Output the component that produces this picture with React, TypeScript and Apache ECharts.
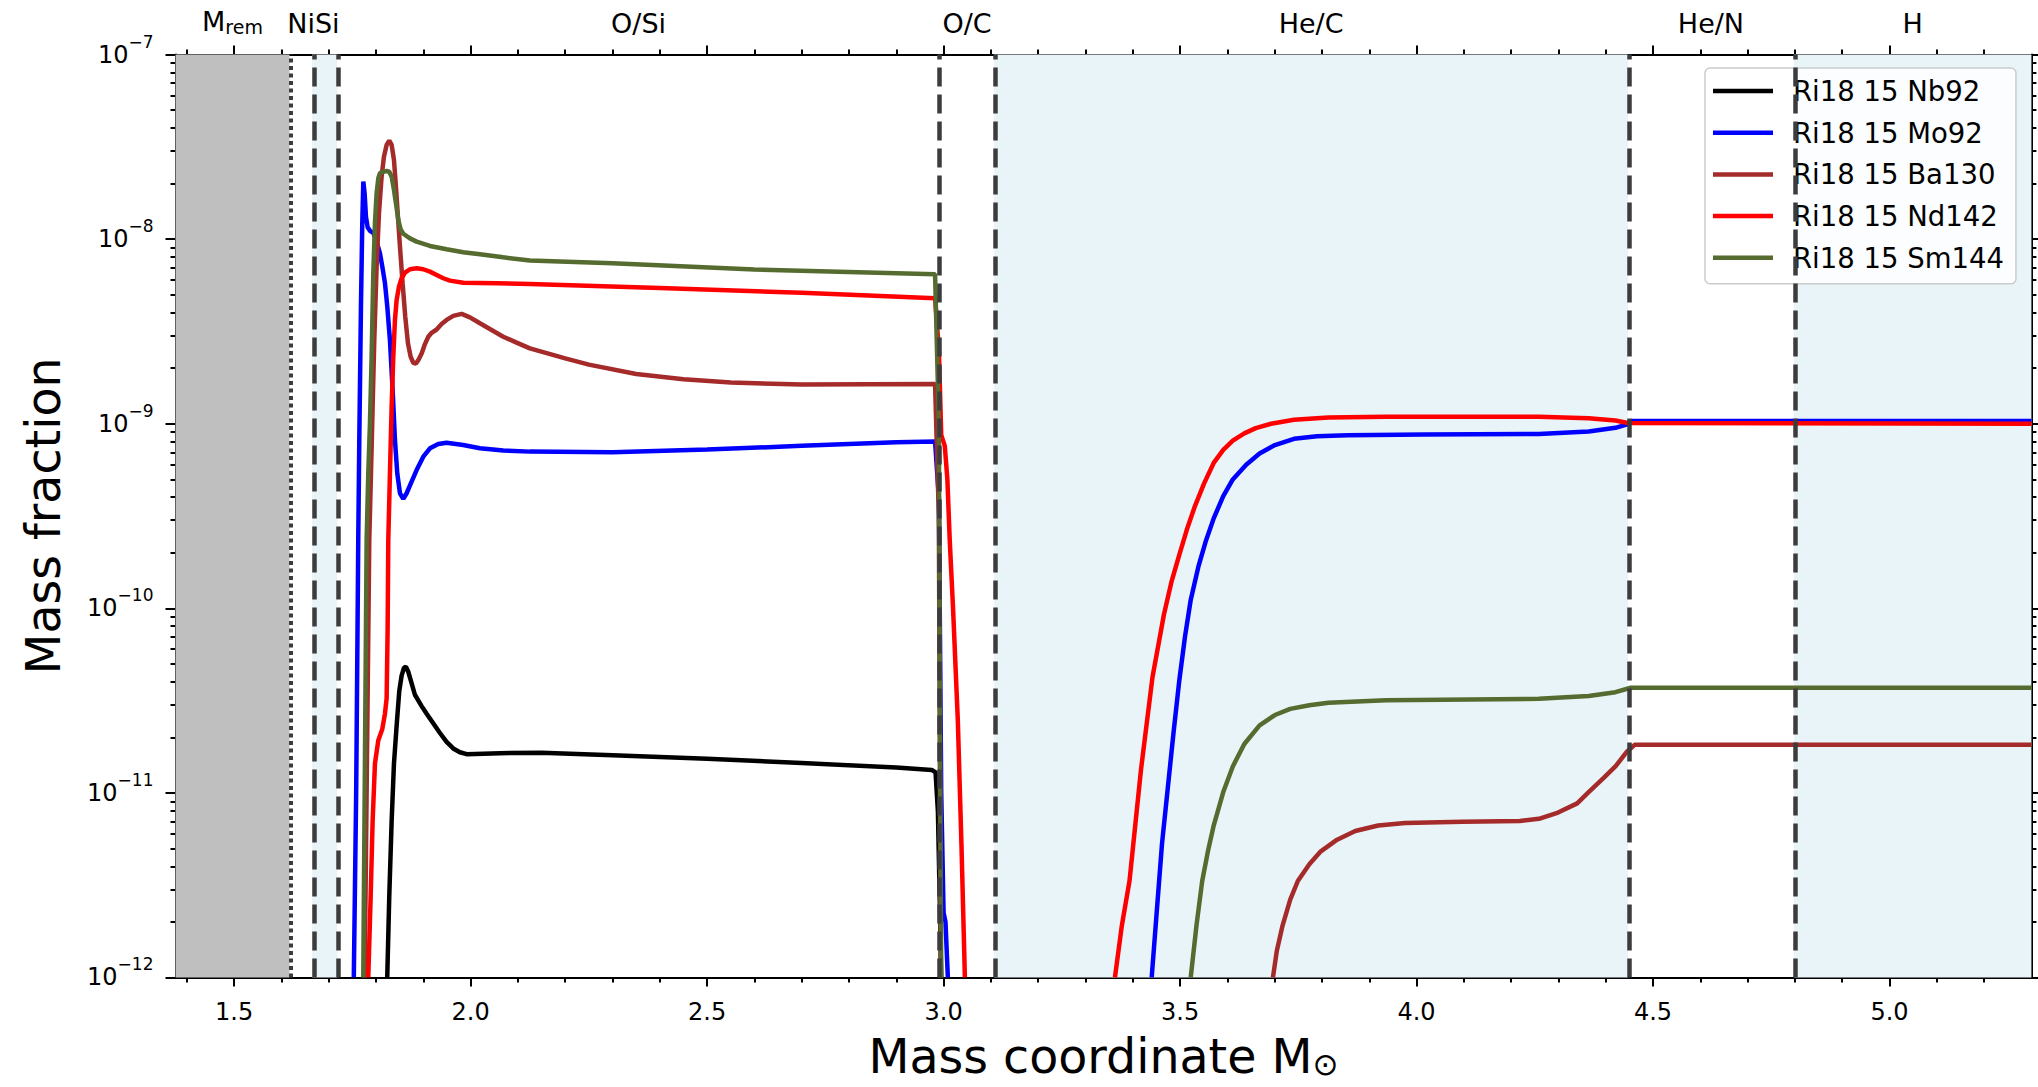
import React, { useEffect, useRef } from 'react';
import * as echarts from 'echarts';

const FONT = 'DejaVu Sans';

// Axis ranges
const X_MIN = 1.376;
const X_MAX = 5.3;
const Y_MIN = 1e-12;
const Y_MAX = 1e-7;

// Tick positions
const X_MAJOR = [1.5, 2.0, 2.5, 3.0, 3.5, 4.0, 4.5, 5.0];
const X_MINOR = [1.4, 1.6, 1.7, 1.8, 1.9, 2.1, 2.2, 2.3, 2.4, 2.6, 2.7, 2.8, 2.9, 3.1, 3.2, 3.3, 3.4, 3.6, 3.7, 3.8, 3.9, 4.1, 4.2, 4.3, 4.4, 4.6, 4.7, 4.8, 4.9, 5.1, 5.2];
const Y_DECADES = [1e-12, 1e-11, 1e-10, 1e-9, 1e-8, 1e-7];
const Y_MINOR: number[] = [];
for (let n = -12; n <= -8; n++) for (let k = 2; k <= 9; k++) Y_MINOR.push(Number((k * Math.pow(10, n)).toPrecision(3)));

// Zones (top labels)
const ZONE_NAMES = ['M{sub|rem}', 'NiSi', 'O/Si', 'O/C', 'He/C', 'He/N', 'H'];
const ZONE_BOUNDS = [1.376, 1.617, 1.718, 2.992, 3.107, 4.447, 4.798, 5.3];
const GRAY_BANDS = [[1.376, 1.617]];
const BLUE_BANDS = [[1.665, 1.718], [3.107, 4.447], [4.798, 5.3]];
const DOTTED_LINES = [1.617];
const DASHED_LINES = [1.665, 1.718, 2.992, 3.107, 4.447, 4.798];

type Pt = [number, number | null];

// Series data: [mass coordinate, mass fraction]
const NB92: Pt[] = [
  [1.8237, 1e-12], [1.8279, 2.71e-12], [1.833, 7.03e-12], [1.8379, 1.44e-11], [1.8436, 2.32e-11],
  [1.8491, 3.56e-11], [1.8541, 4.32e-11], [1.859, 4.75e-11], [1.8632, 4.82e-11], [1.8681, 4.53e-11],
  [1.8753, 3.92e-11], [1.8822, 3.40e-11], [1.8892, 3.17e-11], [1.8964, 2.95e-11], [1.907, 2.68e-11],
  [1.9209, 2.38e-11], [1.9351, 2.11e-11], [1.9492, 1.89e-11], [1.9632, 1.74e-11], [1.9773, 1.66e-11],
  [1.9915, 1.62e-11], [2.0266, 1.63e-11], [2.0619, 1.64e-11], [2.15, 1.65e-11], [2.3, 1.60e-11],
  [2.5, 1.53e-11], [2.7, 1.45e-11], [2.9, 1.37e-11], [2.975, 1.33e-11], [2.983, 1.29e-11],
  [2.988, 7.9e-12], [2.992, 2.5e-12], [2.995, 1e-12],
];
const MO92: Pt[] = [
  [1.753, 1e-12], [1.758, 1e-11], [1.7625, 2.51e-10], [1.7646, 8.16e-10], [1.7681, 4.31e-9],
  [1.7709, 1.22e-8], [1.7731, 2.05e-8], [1.7759, 1.77e-8], [1.7787, 1.32e-8], [1.7822, 1.16e-8],
  [1.7871, 1.11e-8], [1.7942, 1.08e-8], [1.8012, 9.70e-9], [1.8083, 8.38e-9], [1.8139, 6.95e-9],
  [1.8189, 5.77e-9], [1.8238, 4.31e-9], [1.8294, 2.84e-9], [1.8351, 1.52e-9], [1.84, 8.16e-10],
  [1.8449, 5.38e-10], [1.8506, 4.20e-10], [1.8576, 3.91e-10], [1.8647, 4.20e-10], [1.8752, 4.85e-10],
  [1.8858, 5.61e-10], [1.8999, 6.63e-10], [1.914, 7.36e-10], [1.9316, 7.76e-10], [1.9492, 7.89e-10],
  [1.9844, 7.67e-10], [2.0197, 7.36e-10], [2.069, 7.15e-10], [2.1253, 7.06e-10], [2.3, 7.0e-10],
  [2.5, 7.24e-10], [2.7, 7.59e-10], [2.9, 7.94e-10], [2.982, 8.0e-10], [2.99, 3.98e-10],
  [2.995, 1e-11], [3.0, 2.24e-12], [3.004, 2.0e-12], [3.009, 1e-12],
  [3.2, null],
  [3.44, 1e-12], [3.4497, 2.10e-12], [3.4618, 5.29e-12], [3.474, 1.06e-11], [3.4861, 2.11e-11],
  [3.4982, 4.03e-11], [3.5104, 7.01e-11], [3.5225, 1.11e-10], [3.5387, 1.68e-10], [3.5549, 2.33e-10],
  [3.5711, 3.07e-10], [3.5913, 4.05e-10], [3.6115, 4.99e-10], [3.6398, 6.00e-10], [3.6681, 6.89e-10],
  [3.7005, 7.66e-10], [3.7409, 8.28e-10], [3.7895, 8.55e-10], [3.8542, 8.67e-10], [4.0161, 8.75e-10],
  [4.2587, 8.79e-10], [4.3639, 9.08e-10], [4.4205, 9.50e-10], [4.4472, 9.96e-10], [4.455, 1.035e-9],
  [5.3, 1.035e-9],
];
const BA130: Pt[] = [
  [1.776, 1e-12], [1.7857, 2.34e-10], [1.7893, 5.38e-10], [1.7928, 1.24e-9], [1.7963, 2.84e-9],
  [1.8012, 7.10e-9], [1.8062, 1.38e-8], [1.8118, 2.18e-8], [1.8167, 2.80e-8], [1.8224, 3.24e-8],
  [1.828, 3.42e-8], [1.833, 3.24e-8], [1.8379, 2.69e-8], [1.8421, 1.92e-8], [1.8463, 1.32e-8],
  [1.8506, 9.10e-9], [1.8562, 5.77e-9], [1.8618, 3.80e-9], [1.8675, 2.73e-9], [1.8731, 2.31e-9],
  [1.8787, 2.14e-9], [1.8844, 2.12e-9], [1.8893, 2.21e-9], [1.8964, 2.40e-9], [1.9034, 2.70e-9],
  [1.9105, 2.96e-9], [1.9175, 3.11e-9], [1.9281, 3.24e-9], [1.9386, 3.47e-9], [1.9492, 3.65e-9],
  [1.9633, 3.84e-9], [1.9809, 3.94e-9], [1.9985, 3.77e-9], [2.0197, 3.50e-9], [2.0443, 3.22e-9],
  [2.069, 2.96e-9], [2.0972, 2.75e-9], [2.1253, 2.56e-9], [2.2, 2.26e-9], [2.25, 2.09e-9],
  [2.35, 1.86e-9], [2.45, 1.74e-9], [2.55, 1.67e-9], [2.7, 1.63e-9], [2.982, 1.64e-9],
  [2.99, 3.16e-10], [2.994, 1e-12],
  [3.3, null],
  [3.6964, 1e-12], [3.7045, 1.39e-12], [3.7167, 1.91e-12], [3.7329, 2.64e-12], [3.749, 3.33e-12],
  [3.7733, 4.10e-12], [3.7976, 4.82e-12], [3.8299, 5.53e-12], [3.8704, 6.21e-12], [3.9189, 6.65e-12],
  [3.9756, 6.87e-12], [4.0969, 6.97e-12], [4.2183, 7.03e-12], [4.2587, 7.23e-12], [4.2992, 7.82e-12],
  [4.3396, 8.77e-12], [4.3639, 1.01e-11], [4.3962, 1.21e-11], [4.4205, 1.39e-11], [4.4448, 1.67e-11],
  [4.461, 1.82e-11], [5.3, 1.82e-11],
];
const ND142: Pt[] = [
  [1.7836, 1e-12], [1.7886, 2.71e-12], [1.7928, 7.03e-12], [1.7977, 1.44e-11], [1.8047, 1.92e-11],
  [1.8131, 2.21e-11], [1.8188, 2.68e-11], [1.8224, 3.24e-11], [1.8245, 7.67e-11], [1.8259, 2.34e-10],
  [1.8294, 5.38e-10], [1.833, 1.24e-9], [1.8365, 2.31e-9], [1.84, 3.65e-9], [1.8435, 4.68e-9],
  [1.8485, 5.53e-9], [1.8541, 6.14e-9], [1.8611, 6.58e-9], [1.8717, 6.87e-9], [1.8858, 6.95e-9],
  [1.8999, 6.87e-9], [1.914, 6.67e-9], [1.9281, 6.40e-9], [1.9422, 6.14e-9], [1.9563, 5.96e-9],
  [1.9844, 5.81e-9], [2.0549, 5.77e-9], [2.1253, 5.71e-9], [2.4, 5.43e-9], [2.7, 5.13e-9],
  [2.982, 4.79e-9], [2.99, 2.51e-9], [2.995, 8.7e-10], [3.0025, 7.59e-10], [3.008, 5.0e-10],
  [3.013, 2.34e-10], [3.02, 1e-10], [3.03, 2.51e-11], [3.038, 5.0e-12], [3.045, 1e-12],
  [3.2, null],
  [3.3623, 1e-12], [3.3769, 1.91e-12], [3.3931, 3.33e-12], [3.4173, 1.33e-11], [3.4416, 4.22e-11],
  [3.4659, 9.25e-11], [3.4821, 1.40e-10], [3.4982, 1.94e-10], [3.5144, 2.67e-10], [3.5306, 3.53e-10],
  [3.5508, 4.75e-10], [3.5711, 6.13e-10], [3.5913, 7.21e-10], [3.6115, 8.09e-10], [3.6358, 8.87e-10],
  [3.66, 9.47e-10], [3.6924, 1.0e-9], [3.7409, 1.05e-9], [3.8137, 1.08e-9], [3.935, 1.09e-9],
  [4.2587, 1.09e-9], [4.364, 1.07e-9], [4.4205, 1.04e-9], [4.447, 1.01e-9], [5.3, 1.0e-9],
];
const SM144: Pt[] = [
  [1.773, 1e-12], [1.7801, 2.34e-10], [1.7836, 5.38e-10], [1.7871, 1.0e-9], [1.7907, 2.31e-9],
  [1.7942, 6.53e-9], [1.7977, 1.22e-8], [1.8012, 1.77e-8], [1.8048, 2.14e-8], [1.8083, 2.28e-8],
  [1.8153, 2.32e-8], [1.8224, 2.34e-8], [1.828, 2.32e-8], [1.833, 2.18e-8], [1.8379, 1.85e-8],
  [1.8421, 1.56e-8], [1.8471, 1.27e-8], [1.852, 1.13e-8], [1.8576, 1.07e-8], [1.8717, 1.01e-8],
  [1.8858, 9.70e-9], [1.914, 9.19e-9], [1.9492, 8.81e-9], [1.9844, 8.49e-9], [2.0197, 8.28e-9],
  [2.069, 7.97e-9], [2.1253, 7.66e-9], [2.3, 7.41e-9], [2.6, 6.84e-9], [2.982, 6.46e-9],
  [2.99, 1e-9], [2.993, 1e-11], [2.995, 1e-12],
  [3.3, null],
  [3.5225, 1e-12], [3.5347, 1.91e-12], [3.5468, 3.33e-12], [3.5589, 4.82e-12], [3.5711, 6.65e-12],
  [3.5913, 1.01e-11], [3.6115, 1.39e-11], [3.6358, 1.84e-11], [3.6681, 2.32e-11], [3.7005, 2.64e-11],
  [3.7329, 2.85e-11], [3.7733, 2.98e-11], [3.8137, 3.08e-11], [3.935, 3.17e-11], [4.2587, 3.23e-11],
  [4.3639, 3.35e-11], [4.4205, 3.51e-11], [4.4529, 3.71e-11], [5.3, 3.71e-11],
];

const SERIES_NAMES = ['Ri18 15 Nb92', 'Ri18 15 Mo92', 'Ri18 15 Ba130', 'Ri18 15 Nd142', 'Ri18 15 Sm144'];
const SERIES_COLORS = ['#000000', '#0000ff', '#a52a2a', '#ff0000', '#556b2f'];
const SERIES_DATA = [NB92, MO92, BA130, ND142, SM144];

const ZONE_CENTERS = ZONE_NAMES.map((_, i) => (ZONE_BOUNDS[i] + ZONE_BOUNDS[i + 1]) / 2);

function buildOption() {
  const axisLineStyle = { color: '#000', width: 2 };
  const tickStyle = { color: '#000', width: 2 };
  const xBase = { type: 'value', min: X_MIN, max: X_MAX, splitLine: { show: false } };
  const yBase = { type: 'log', logBase: 10, min: Y_MIN, max: Y_MAX, splitLine: { show: false } };

  const xAxis = [
    {
      ...xBase, position: 'bottom',
      axisLine: { show: true, onZero: false, lineStyle: axisLineStyle },
      axisTick: { show: true, customValues: X_MAJOR, length: 9, lineStyle: tickStyle },
      axisLabel: {
        customValues: X_MAJOR, formatter: (v: number) => v.toFixed(1),
        fontSize: 24, fontFamily: FONT, color: '#000', margin: 23,
      },
      name: 'Mass coordinate M{sub|\u2299}', nameLocation: 'middle', nameGap: 55,
      nameTextStyle: {
        fontSize: 47.5, fontFamily: FONT, color: '#000',
        rich: { sub: { fontSize: 31, fontFamily: FONT, color: '#000', padding: [16, 0, 0, 0] } },
      },
    },
    {
      ...xBase, position: 'bottom',
      axisLine: { show: false },
      axisTick: { show: true, customValues: X_MINOR, length: 5, lineStyle: tickStyle },
      axisLabel: { show: false },
    },
    {
      ...xBase, position: 'top',
      axisLine: { show: true, onZero: false, lineStyle: axisLineStyle },
      axisTick: { show: true, customValues: X_MAJOR, length: 9, lineStyle: tickStyle },
      axisLabel: {
        customValues: ZONE_CENTERS,
        formatter: (v: number) => {
          let best = 0;
          ZONE_CENTERS.forEach((c, i) => { if (Math.abs(c - v) < Math.abs(ZONE_CENTERS[best] - v)) best = i; });
          return ZONE_NAMES[best];
        },
        fontSize: 27, fontFamily: FONT, color: '#000', margin: 18,
        rich: { sub: { fontSize: 19, fontFamily: FONT, color: '#000', padding: [12, 0, 0, 0] } },
      },
    },
    {
      ...xBase, position: 'top',
      axisLine: { show: false },
      axisTick: { show: true, customValues: X_MINOR, length: 5, lineStyle: tickStyle },
      axisLabel: { show: false },
    },
  ];

  const yAxis = [
    {
      ...yBase, position: 'left',
      axisLine: { show: true, onZero: false, lineStyle: axisLineStyle },
      axisTick: { show: true, customValues: Y_DECADES, length: 10, lineStyle: tickStyle },
      axisLabel: {
        customValues: Y_DECADES,
        formatter: (v: number) => '10{sup|\u2212' + String(-Math.round(Math.log10(v))) + '}',
        fontSize: 24, fontFamily: FONT, color: '#000', margin: 22,
        rich: { sup: { fontSize: 17, fontFamily: FONT, color: '#000', padding: [0, 0, 26, 0] } },
      },
      name: 'Mass fraction', nameLocation: 'middle', nameGap: 108,
      nameTextStyle: { fontSize: 47.5, fontFamily: FONT, color: '#000' },
    },
    {
      ...yBase, position: 'left',
      axisLine: { show: false },
      axisTick: { show: true, customValues: Y_MINOR, length: 5, lineStyle: tickStyle },
      axisLabel: { show: false },
    },
    {
      ...yBase, position: 'right',
      axisLine: { show: true, onZero: false, lineStyle: axisLineStyle },
      axisTick: { show: true, customValues: Y_DECADES, length: 10, lineStyle: tickStyle },
      axisLabel: { show: false },
    },
    {
      ...yBase, position: 'right',
      axisLine: { show: false },
      axisTick: { show: true, customValues: Y_MINOR, length: 5, lineStyle: tickStyle },
      axisLabel: { show: false },
    },
  ];

  const markAreaData = [
    ...GRAY_BANDS.map(([a, b]) => [{ xAxis: a, itemStyle: { color: '#bfbfbf' } }, { xAxis: b }]),
    ...BLUE_BANDS.map(([a, b]) => [{ xAxis: a, itemStyle: { color: '#e8f4f7' } }, { xAxis: b }]),
  ];
  const markLineData = [
    ...DOTTED_LINES.map((x) => ({ xAxis: x, lineStyle: { type: [4, 3.5], width: 4, color: '#3c3c3c' } })),
    ...DASHED_LINES.map((x) => ({ xAxis: x, lineStyle: { type: [19, 8], width: 4.5, color: '#3c3c3c' } })),
  ];

  const series: any[] = [
    {
      type: 'line', name: 'zones', data: [], z: 1, silent: true, xAxisIndex: 0, yAxisIndex: 0,
      markArea: { silent: true, label: { show: false }, data: markAreaData },
      markLine: { silent: true, symbol: ['none', 'none'], label: { show: false }, data: markLineData },
    },
    ...SERIES_NAMES.map((name, i) => ({
      type: 'line', name, data: SERIES_DATA[i], xAxisIndex: 0, yAxisIndex: 0,
      symbol: 'none', showSymbol: false, connectNulls: false, z: 3, silent: true,
      lineStyle: { color: SERIES_COLORS[i], width: 4.5 },
      itemStyle: { color: SERIES_COLORS[i] },
    })),
  ];

  return {
    animation: false,
    backgroundColor: '#ffffff',
    textStyle: { fontFamily: FONT },
    grid: { left: 175.5, right: 6.6, top: 54.6, bottom: 109.6, containLabel: false },
    xAxis, yAxis, series,
    legend: {
      data: SERIES_NAMES, orient: 'vertical', left: 1705, top: 68,
      icon: 'rect',
      padding: [8, 12, 11, 8], itemGap: 11.7, itemWidth: 60, itemHeight: 4.5,
      backgroundColor: 'rgba(255,255,255,0.8)', borderColor: '#cccccc', borderWidth: 1.5, borderRadius: 5,
      selectedMode: false,
      textStyle: { fontSize: 27.5, fontFamily: FONT, color: '#000', lineHeight: 30, padding: [0, 0, 0, 15] },
    },
  };
}

export default function App() {
  const ref = useRef<HTMLDivElement>(null);
  useEffect(() => {
    const chart = echarts.init(ref.current as HTMLDivElement, null, { renderer: 'svg' });
    chart.setOption(buildOption() as any);
    return () => chart.dispose();
  }, []);
  return (
    <div
      ref={ref}
      style={{ position: 'fixed', left: 0, top: 0, width: 2038, height: 1087, background: '#fff' }}
    />
  );
}
